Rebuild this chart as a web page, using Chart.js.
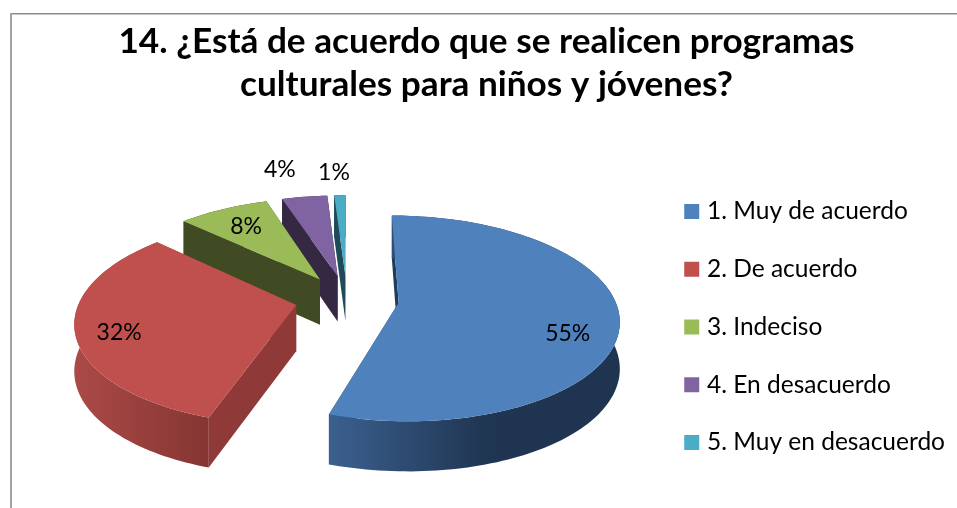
<!DOCTYPE html>
<html>
<head>
<meta charset="utf-8">
<style>
  html, body { margin: 0; padding: 0; background: #fff; }
  canvas { display: block; }
</style>
<script src="https://cdn.jsdelivr.net/npm/chart.js@4/dist/chart.umd.min.js"></script>
</head>
<body>
<canvas id="pieChart" width="957" height="508"></canvas>
<script>
const titleLines = ["14. ¿Está de acuerdo que se realicen programas", "culturales para niños y jóvenes?"];
const categories = ["1. Muy de acuerdo", "2. De acuerdo", "3. Indeciso", "4. En desacuerdo", "5. Muy en desacuerdo"];
const percentages = [55, 32, 8, 4, 1];

const topColors = ["#4f81bd", "#c0504d", "#9bbb59", "#8064a2", "#4bacc6"];
const wallColors = ["#1d3d5c", "#8f3a38", "#404a23", "#352843", "#1f4a57"];
const sideStops = [
  [[0, "#3b608f"], [0.55, "#1f3551"], [1, "#1f3450"]],
  [[0, "#ab4a47"], [1, "#853532"]],
  [[0, "#404a23"], [1, "#404a23"]],
  [[0, "#352843"], [1, "#352843"]],
  [[0, "#1f4a57"], [1, "#1f4a57"]]
];
// where each % label sits: share of the radius, and degrees off the slice middle
const labelRadius = [1.03, 1.05, 0.97, 1.67, 1.58];
const labelTurn = [9.8, -3.6, 0, -2.4, -0.7];
// back slices first so the front ones cover them
const paintOrder = [4, 3, 2, 1, 0];

// tilted pie: plane coordinates to screen
const view = { cx: 347, cy: 299, tilt: 0.46, persp: 0.0007, depth: 46 };
function project(px, py, drop) {
  const s = 1 / (1 - view.persp * py);
  return { x: view.cx + px * s, y: view.cy + view.tilt * py * s + (drop || 0) * Math.sqrt(s) };
}

function slicePoints(arc, drop) {
  const { startAngle, endAngle, outerRadius } = arc.getProps(["startAngle", "endAngle", "outerRadius"]);
  const mid = (startAngle + endAngle) / 2;
  const off = arc.options.offset;
  const ox = Math.cos(mid) * off, oy = Math.sin(mid) * off;
  const steps = Math.max(4, Math.round((endAngle - startAngle) * 40));
  const rim = [];
  for (let i = 0; i <= steps; i++) {
    const t = startAngle + (endAngle - startAngle) * i / steps;
    rim.push(project(ox + Math.cos(t) * outerRadius, oy + Math.sin(t) * outerRadius, drop));
  }
  return { apex: project(ox, oy, drop), rim };
}

function fillPoly(ctx, pts, fill) {
  ctx.beginPath();
  pts.forEach((p, i) => i ? ctx.lineTo(p.x, p.y) : ctx.moveTo(p.x, p.y));
  ctx.closePath();
  ctx.fillStyle = fill;
  ctx.fill();
}

const framePlugin = {
  id: "frame",
  beforeDraw(chart) {
    const ctx = chart.ctx;
    ctx.fillStyle = "#8c8c8c";
    ctx.fillRect(10, 13, 947, 1.5);
    ctx.fillStyle = "#a3a3a3";
    ctx.fillRect(10, 13, 2, 495);
  }
};

const pie3dPlugin = {
  id: "pie3d",
  beforeDatasetsDraw(chart) {
    const ctx = chart.ctx;
    const arcs = chart.getDatasetMeta(0).data;
    paintOrder.forEach(i => {
      const top = slicePoints(arcs[i], 0);
      const low = slicePoints(arcs[i], view.depth);
      const first = top.rim[0], last = top.rim[top.rim.length - 1];
      const lowFirst = low.rim[0], lowLast = low.rim[low.rim.length - 1];
      // the two cut walls
      fillPoly(ctx, [top.apex, first, lowFirst, low.apex], wallColors[i]);
      fillPoly(ctx, [top.apex, last, lowLast, low.apex], wallColors[i]);
      // the curved outer wall
      const xs = top.rim.map(p => p.x);
      const grad = ctx.createLinearGradient(Math.min(...xs), 0, Math.max(...xs), 0);
      sideStops[i].forEach(s => grad.addColorStop(s[0], s[1]));
      fillPoly(ctx, top.rim.concat(low.rim.slice().reverse()), grad);
      // top face
      fillPoly(ctx, [top.apex].concat(top.rim), arcs[i].options.backgroundColor);
    });
    // % labels
    ctx.font = "23px Lato";
    ctx.fillStyle = "#000";
    ctx.textAlign = "center";
    ctx.textBaseline = "middle";
    arcs.forEach((arc, i) => {
      const mid = (arc.startAngle + arc.endAngle) / 2 + labelTurn[i] * Math.PI / 180;
      const r = arc.outerRadius * labelRadius[i];
      const p = project(Math.cos(mid) * r, Math.sin(mid) * r);
      ctx.fillText(percentages[i] + "%", p.x - 1, p.y);
    });
    return false;
  }
};

new Chart(document.getElementById("pieChart"), {
  type: "pie",
  data: {
    labels: categories,
    datasets: [{
      data: percentages,
      backgroundColor: topColors,
      borderWidth: 0,
      offset: 52,
      radius: 216
    }]
  },
  plugins: [framePlugin, pie3dPlugin],
  options: {
    responsive: false,
    animation: false,
    layout: { padding: { left: 18, right: 2, top: 20, bottom: 20 } },
    plugins: {
      tooltip: { enabled: false },
      title: {
        display: true,
        text: titleLines,
        color: "#000",
        font: { family: "Lato", size: 35.2, weight: "bold", lineHeight: 1.22 },
        padding: { top: 0, bottom: 20 }
      },
      legend: {
        position: "right",
        align: "end",
        labels: {
          color: "#000",
          font: { family: "Lato", size: 24.5 },
          boxWidth: 6,
          boxHeight: 6,
          padding: 33.25,
          // fat stroke makes the 15px square without pushing the text away
          generateLabels(chart) {
            return Chart.overrides.pie.plugins.legend.labels.generateLabels(chart).map(item => ({
              ...item, lineWidth: 9, strokeStyle: item.fillStyle
            }));
          }
        }
      }
    }
  }
});
</script>
</body>
</html>
